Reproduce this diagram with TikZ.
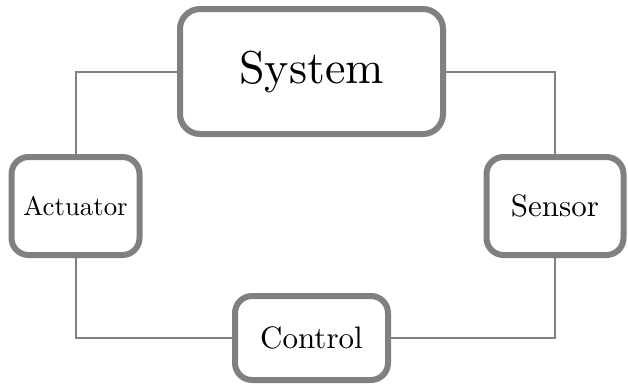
\documentclass[tikz,border=0pt]{standalone}
\definecolor{boxgray}{HTML}{808080}
\tikzset{
  blk/.style={draw=boxgray, line width=6pt, rounded corners=20pt, fill=white, inner sep=0pt, align=center},
  link/.style={draw=boxgray, line width=2pt}
}
\newcommand{\bigtxt}[2]{\scalebox{#1}{#2}}
\begin{document}
\begin{tikzpicture}[x=1pt,y=-1pt]
\useasboundingbox (0,0) rectangle (628,384);
\node[blk, minimum width=263pt, minimum height=125pt] (sys) at (311.5,71.5) {\bigtxt{4.6}{System}};
\node[blk, minimum width=128pt, minimum height=98pt, rounded corners=17pt] (act) at (75.5,206) {\bigtxt{2.68}{Actuator}};
\node[blk, minimum width=137pt, minimum height=98pt, rounded corners=17pt] (sen) at (555,206) {\bigtxt{3.1}{Sensor}};
\node[blk, minimum width=153pt, minimum height=84pt, rounded corners=17pt] (ctl) at (311.5,338) {\bigtxt{3.1}{Control}};
\draw[link] (sys.west) -| (act.north);
\draw[link] (sys.east) -| (sen.north);
\draw[link] (act.south) |- (ctl.west);
\draw[link] (sen.south) |- (ctl.east);
\end{tikzpicture}
\end{document}
